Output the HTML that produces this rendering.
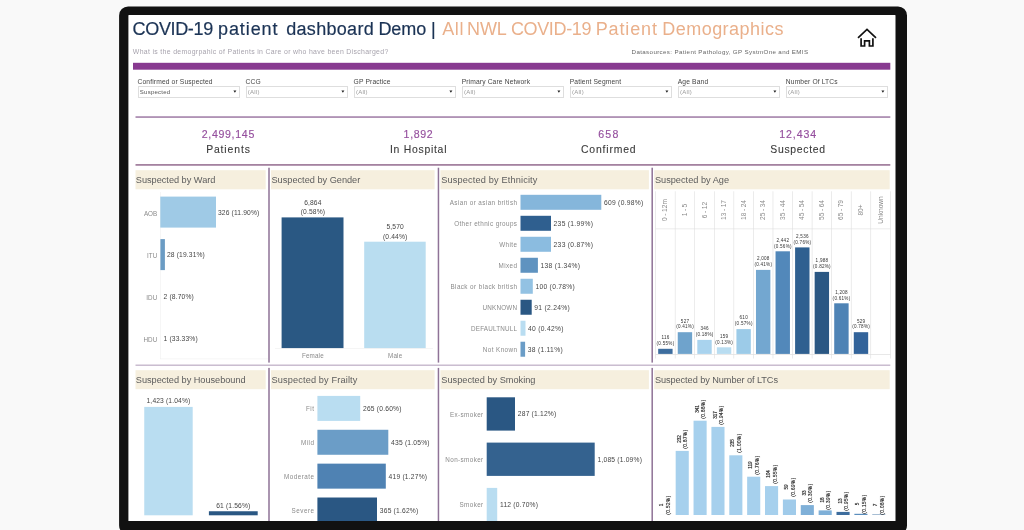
<!DOCTYPE html><html><head><meta charset="utf-8"><title>COVID-19 patient dashboard Demo</title><style>
*{margin:0;padding:0;box-sizing:border-box}
html,body{width:1024px;height:530px;overflow:hidden;background:#f9f9f9;font-family:"Liberation Sans",sans-serif;}
.scr{position:absolute;left:126px;top:13px;width:772px;height:510px;background:#fff;overflow:hidden;filter:blur(0.35px)}
.frame{position:absolute;left:0;top:0}
.t{position:absolute;white-space:nowrap;line-height:1;}
.b{position:absolute;}
.hd{position:absolute;background:#f5efe1;height:19px;}
.vl{position:absolute;width:1.3px;background:#a878b4;}
.hl{position:absolute;height:1.4px;background:#b07fba;}
.lab{color:#8a8a8a}
.val{color:#444}
</style></head><body>
<div class="scr">
<svg class="b" style="left:0;top:0" width="772" height="510" viewBox="0 0 772 510"><rect x="7.00" y="49.80" width="757.30" height="6.90" fill="#883a90"/><rect x="9.50" y="157.20" width="130.20" height="19.10" fill="#f6efde"/><rect x="9.50" y="357.20" width="130.20" height="19.00" fill="#f6efde"/><rect x="144.90" y="157.20" width="163.70" height="19.10" fill="#f6efde"/><rect x="144.90" y="357.20" width="163.70" height="19.00" fill="#f6efde"/><rect x="314.40" y="157.20" width="208.50" height="19.10" fill="#f6efde"/><rect x="314.40" y="357.20" width="208.50" height="19.00" fill="#f6efde"/><rect x="528.20" y="157.20" width="235.50" height="19.10" fill="#f6efde"/><rect x="528.20" y="357.20" width="235.50" height="19.00" fill="#f6efde"/><rect x="34.00" y="179.00" width="0.60" height="167.00" fill="#f0f0f0"/><rect x="34.00" y="345.60" width="108.00" height="0.60" fill="#f0f0f0"/><rect x="34.30" y="183.60" width="55.70" height="31.00" fill="#9fcae6"/><rect x="34.40" y="226.10" width="4.50" height="31.00" fill="#6b9cc4"/><rect x="155.60" y="204.40" width="61.90" height="130.80" fill="#2a5883"/><rect x="238.20" y="228.70" width="61.50" height="106.50" fill="#b9ddf0"/><rect x="149.00" y="335.20" width="158.00" height="0.60" fill="#eee"/><rect x="394.50" y="181.80" width="80.80" height="15.00" fill="#85b6db"/><rect x="394.50" y="202.79" width="30.50" height="15.00" fill="#2f5f8f"/><rect x="394.50" y="223.78" width="30.50" height="15.00" fill="#8bbce0"/><rect x="394.50" y="244.77" width="17.40" height="15.00" fill="#5f93c0"/><rect x="394.50" y="265.76" width="12.30" height="15.00" fill="#93c2e3"/><rect x="394.50" y="286.75" width="11.20" height="15.00" fill="#2a5783"/><rect x="394.50" y="307.74" width="5.00" height="15.00" fill="#b9ddf1"/><rect x="394.50" y="328.73" width="4.60" height="15.00" fill="#6b9dc7"/><rect x="529.30" y="178.30" width="0.60" height="167.20" fill="#dedede"/><rect x="548.86" y="178.30" width="0.60" height="167.20" fill="#dedede"/><rect x="568.42" y="178.30" width="0.60" height="167.20" fill="#dedede"/><rect x="587.98" y="178.30" width="0.60" height="167.20" fill="#dedede"/><rect x="607.54" y="178.30" width="0.60" height="167.20" fill="#dedede"/><rect x="627.10" y="178.30" width="0.60" height="167.20" fill="#dedede"/><rect x="646.66" y="178.30" width="0.60" height="167.20" fill="#dedede"/><rect x="666.22" y="178.30" width="0.60" height="167.20" fill="#dedede"/><rect x="685.78" y="178.30" width="0.60" height="167.20" fill="#dedede"/><rect x="705.34" y="178.30" width="0.60" height="167.20" fill="#dedede"/><rect x="724.90" y="178.30" width="0.60" height="167.20" fill="#dedede"/><rect x="744.46" y="178.30" width="0.60" height="167.20" fill="#dedede"/><rect x="764.02" y="178.30" width="0.60" height="167.20" fill="#dedede"/><rect x="529.70" y="215.60" width="234.70" height="0.60" fill="#dedede"/><rect x="529.70" y="341.10" width="234.70" height="0.70" fill="#dedede"/><rect x="532.18" y="335.80" width="14.40" height="5.10" fill="#3d6d9e"/><rect x="551.74" y="319.20" width="14.40" height="21.70" fill="#6fa3cc"/><rect x="571.30" y="326.90" width="14.40" height="14.00" fill="#a9d3ee"/><rect x="590.86" y="334.30" width="14.40" height="6.60" fill="#b9ddf1"/><rect x="610.42" y="316.10" width="14.40" height="24.80" fill="#9ccbe8"/><rect x="629.98" y="256.90" width="14.40" height="84.00" fill="#73a7d0"/><rect x="649.54" y="238.30" width="14.40" height="102.60" fill="#5288ba"/><rect x="669.10" y="234.40" width="14.40" height="106.50" fill="#2f6090"/><rect x="688.66" y="258.90" width="14.40" height="82.00" fill="#2a5783"/><rect x="708.22" y="290.30" width="14.40" height="50.60" fill="#4e83b5"/><rect x="727.78" y="319.20" width="14.40" height="21.70" fill="#32639a"/><rect x="18.25" y="393.90" width="48.45" height="108.40" fill="#b9ddf1"/><rect x="82.90" y="498.25" width="48.80" height="4.05" fill="#2a5783"/><rect x="191.40" y="382.90" width="42.80" height="25.00" fill="#b9ddf1"/><rect x="191.40" y="416.77" width="70.90" height="25.00" fill="#6b9dc7"/><rect x="191.40" y="450.64" width="68.40" height="25.00" fill="#4f82b3"/><rect x="191.40" y="484.51" width="59.60" height="25.00" fill="#2a5783"/><rect x="360.70" y="384.30" width="28.30" height="33.30" fill="#2a5783"/><rect x="360.70" y="429.60" width="108.00" height="33.30" fill="#34628f"/><rect x="360.70" y="474.90" width="10.50" height="33.30" fill="#b9ddf1"/><rect x="531.80" y="501.90" width="13.10" height="0.10" fill="#d5e8f5"/><rect x="549.67" y="437.90" width="13.10" height="64.10" fill="#a6d0ed"/><rect x="567.54" y="407.70" width="13.10" height="94.30" fill="#a6d0ed"/><rect x="585.41" y="413.90" width="13.10" height="88.10" fill="#a6d0ed"/><rect x="603.28" y="442.30" width="13.10" height="59.70" fill="#a6d0ed"/><rect x="621.15" y="463.70" width="13.10" height="38.30" fill="#a6d0ed"/><rect x="639.02" y="473.10" width="13.10" height="28.90" fill="#a6d0ed"/><rect x="656.89" y="486.50" width="13.10" height="15.50" fill="#a0cbea"/><rect x="674.76" y="492.10" width="13.10" height="9.90" fill="#7fb0d8"/><rect x="692.63" y="497.40" width="13.10" height="4.60" fill="#7fb0d8"/><rect x="710.50" y="498.90" width="13.10" height="3.10" fill="#3d6d9e"/><rect x="728.37" y="500.80" width="13.10" height="1.20" fill="#5b8ebd"/><rect x="746.24" y="501.40" width="13.10" height="0.60" fill="#6d93b8"/></svg>
<div class="t " style="font-size:18px;letter-spacing:-0.346px;left:6.60px;top:6.90px;color:#1b3355;-webkit-text-stroke:0.2px #1b3355">COVID-19</div>
<div class="t " style="font-size:18px;letter-spacing:0.909px;left:92.00px;top:6.90px;color:#1b3355;-webkit-text-stroke:0.2px #1b3355">patient</div>
<div class="t " style="font-size:18px;letter-spacing:0.298px;left:160.25px;top:6.90px;color:#1b3355;-webkit-text-stroke:0.2px #1b3355">dashboard</div>
<div class="t " style="font-size:18px;letter-spacing:-0.038px;left:252.40px;top:6.90px;color:#1b3355;-webkit-text-stroke:0.2px #1b3355">Demo</div>
<div class="t " style="font-size:18px;letter-spacing:1.124px;left:305.00px;top:6.90px;color:#1b3355;-webkit-text-stroke:0.2px #1b3355">|</div>
<div class="t " style="font-size:18px;letter-spacing:0.723px;left:316.15px;top:6.90px;color:#eab08b;">All</div>
<div class="t " style="font-size:18px;letter-spacing:-0.150px;left:341.10px;top:6.90px;color:#eab08b;">NWL</div>
<div class="t " style="font-size:18px;letter-spacing:-0.346px;left:384.90px;top:6.90px;color:#eab08b;">COVID-19</div>
<div class="t " style="font-size:18px;letter-spacing:0.868px;left:469.70px;top:6.90px;color:#eab08b;">Patient</div>
<div class="t " style="font-size:18px;letter-spacing:0.459px;left:536.30px;top:6.90px;color:#eab08b;">Demographics</div>
<div class="t " style="font-size:6.9px;letter-spacing:0.329px;left:6.80px;top:36.45px;color:#a7a3ad;">What is the demogrpahic of Patients in Care or who have been Discharged?</div>
<div class="t " style="font-size:6.2px;letter-spacing:0.363px;left:505.60px;top:36.30px;color:#666;">Datasources: Patient Pathology, GP SystmOne and EMIS</div>
<svg class="b" style="left:724px;top:9px" width="34" height="30" viewBox="0 0 34 30"><path d="M8 15.8 L17 7.5 L26 15.8 M11.1 16.2 V24 H14.6 V18.8 H19.4 V24 H22.9 V16.2" fill="none" stroke="#111" stroke-width="1.7" stroke-linejoin="miter" stroke-linecap="butt"/></svg>
<div class="t " style="font-size:6.7px;letter-spacing:0.140px;left:11.50px;top:65.55px;color:#444;">Confirmed or Suspected</div>
<div class="b" style="left:12.10px;top:73.00px;width:102px;height:12px;border:1px solid #dedede;background:#fff"></div>
<div class="t " style="font-size:6px;letter-spacing:0.250px;left:13.80px;top:76.20px;color:#555;">Suspected</div>
<svg class="b" style="left:105.50px;top:76.00px" width="6" height="6" viewBox="0 0 6 6"><path d="M1.4 1.4 H4.4 L2.9 3.7 Z" fill="#222"/></svg>
<div class="t " style="font-size:6.7px;letter-spacing:0.140px;left:119.55px;top:65.55px;color:#444;">CCG</div>
<div class="b" style="left:120.15px;top:73.00px;width:102px;height:12px;border:1px solid #dedede;background:#fff"></div>
<div class="t " style="font-size:6px;letter-spacing:0.250px;left:121.85px;top:76.20px;color:#999;">(All)</div>
<svg class="b" style="left:213.55px;top:76.00px" width="6" height="6" viewBox="0 0 6 6"><path d="M1.4 1.4 H4.4 L2.9 3.7 Z" fill="#222"/></svg>
<div class="t " style="font-size:6.7px;letter-spacing:0.140px;left:227.60px;top:65.55px;color:#444;">GP Practice</div>
<div class="b" style="left:228.20px;top:73.00px;width:102px;height:12px;border:1px solid #dedede;background:#fff"></div>
<div class="t " style="font-size:6px;letter-spacing:0.250px;left:229.90px;top:76.20px;color:#999;">(All)</div>
<svg class="b" style="left:321.60px;top:76.00px" width="6" height="6" viewBox="0 0 6 6"><path d="M1.4 1.4 H4.4 L2.9 3.7 Z" fill="#222"/></svg>
<div class="t " style="font-size:6.7px;letter-spacing:0.140px;left:335.65px;top:65.55px;color:#444;">Primary Care Network</div>
<div class="b" style="left:336.25px;top:73.00px;width:102px;height:12px;border:1px solid #dedede;background:#fff"></div>
<div class="t " style="font-size:6px;letter-spacing:0.250px;left:337.95px;top:76.20px;color:#999;">(All)</div>
<svg class="b" style="left:429.65px;top:76.00px" width="6" height="6" viewBox="0 0 6 6"><path d="M1.4 1.4 H4.4 L2.9 3.7 Z" fill="#222"/></svg>
<div class="t " style="font-size:6.7px;letter-spacing:0.140px;left:443.70px;top:65.55px;color:#444;">Patient Segment</div>
<div class="b" style="left:444.30px;top:73.00px;width:102px;height:12px;border:1px solid #dedede;background:#fff"></div>
<div class="t " style="font-size:6px;letter-spacing:0.250px;left:446.00px;top:76.20px;color:#999;">(All)</div>
<svg class="b" style="left:537.70px;top:76.00px" width="6" height="6" viewBox="0 0 6 6"><path d="M1.4 1.4 H4.4 L2.9 3.7 Z" fill="#222"/></svg>
<div class="t " style="font-size:6.7px;letter-spacing:0.140px;left:551.75px;top:65.55px;color:#444;">Age Band</div>
<div class="b" style="left:552.35px;top:73.00px;width:102px;height:12px;border:1px solid #dedede;background:#fff"></div>
<div class="t " style="font-size:6px;letter-spacing:0.250px;left:554.05px;top:76.20px;color:#999;">(All)</div>
<svg class="b" style="left:645.75px;top:76.00px" width="6" height="6" viewBox="0 0 6 6"><path d="M1.4 1.4 H4.4 L2.9 3.7 Z" fill="#222"/></svg>
<div class="t " style="font-size:6.7px;letter-spacing:0.140px;left:659.80px;top:65.55px;color:#444;">Number Of LTCs</div>
<div class="b" style="left:660.40px;top:73.00px;width:102px;height:12px;border:1px solid #dedede;background:#fff"></div>
<div class="t " style="font-size:6px;letter-spacing:0.250px;left:662.10px;top:76.20px;color:#999;">(All)</div>
<svg class="b" style="left:753.80px;top:76.00px" width="6" height="6" viewBox="0 0 6 6"><path d="M1.4 1.4 H4.4 L2.9 3.7 Z" fill="#222"/></svg>
<div class="t " style="font-size:10.6px;letter-spacing:0.680px;left:2.34px;width:200px;text-align:center;top:115.75px;color:#954f9e;-webkit-text-stroke:0.15px #954f9e;">2,499,145</div>
<div class="t " style="font-size:10.4px;letter-spacing:0.882px;left:2.44px;width:200px;text-align:center;top:132.20px;color:#3a3a3a;-webkit-text-stroke:0.1px #3a3a3a;">Patients</div>
<div class="t " style="font-size:10.6px;letter-spacing:0.668px;left:192.53px;width:200px;text-align:center;top:115.75px;color:#954f9e;-webkit-text-stroke:0.15px #954f9e;">1,892</div>
<div class="t " style="font-size:10.4px;letter-spacing:0.746px;left:192.57px;width:200px;text-align:center;top:132.20px;color:#3a3a3a;-webkit-text-stroke:0.1px #3a3a3a;">In Hospital</div>
<div class="t " style="font-size:10.6px;letter-spacing:1.307px;left:382.95px;width:200px;text-align:center;top:115.75px;color:#954f9e;-webkit-text-stroke:0.15px #954f9e;">658</div>
<div class="t " style="font-size:10.4px;letter-spacing:0.841px;left:382.72px;width:200px;text-align:center;top:132.20px;color:#3a3a3a;-webkit-text-stroke:0.1px #3a3a3a;">Confirmed</div>
<div class="t " style="font-size:10.6px;letter-spacing:0.896px;left:572.15px;width:200px;text-align:center;top:115.75px;color:#954f9e;-webkit-text-stroke:0.15px #954f9e;">12,434</div>
<div class="t " style="font-size:10.4px;letter-spacing:0.694px;left:572.05px;width:200px;text-align:center;top:132.20px;color:#3a3a3a;-webkit-text-stroke:0.1px #3a3a3a;">Suspected</div>
<div class="t " style="font-size:9.2px;letter-spacing:-0.015px;left:9.80px;top:162.60px;color:#5c5c5c">Suspected by Ward</div>
<div class="t " style="font-size:9.2px;letter-spacing:-0.022px;left:9.80px;top:362.60px;color:#5c5c5c">Suspected by Housebound</div>
<div class="t " style="font-size:9.2px;letter-spacing:-0.005px;left:145.50px;top:162.60px;color:#5c5c5c">Suspected by Gender</div>
<div class="t " style="font-size:9.2px;letter-spacing:0.140px;left:145.50px;top:362.60px;color:#5c5c5c">Suspected by Frailty</div>
<div class="t " style="font-size:9.2px;letter-spacing:0.149px;left:315.30px;top:162.60px;color:#5c5c5c">Suspected by Ethnicity</div>
<div class="t " style="font-size:9.2px;letter-spacing:0.011px;left:315.30px;top:362.60px;color:#5c5c5c">Suspected by Smoking</div>
<div class="t " style="font-size:9.2px;letter-spacing:0.009px;left:528.90px;top:162.60px;color:#5c5c5c">Suspected by Age</div>
<div class="t " style="font-size:9.2px;letter-spacing:-0.070px;left:528.90px;top:362.60px;color:#5c5c5c">Suspected by Number of LTCs</div>
<div class="t lab" style="font-size:6.3px;right:740.80px;top:197.55px;">AOB</div>
<div class="t val" style="font-size:6.7px;letter-spacing:0.150px;left:92.00px;top:197.35px;">326 (11.90%)</div>
<div class="t lab" style="font-size:6.3px;right:740.80px;top:239.55px;">ITU</div>
<div class="t val" style="font-size:6.7px;letter-spacing:0.150px;left:40.90px;top:239.35px;">28 (19.31%)</div>
<div class="t lab" style="font-size:6.3px;right:740.80px;top:281.55px;">IDU</div>
<div class="t val" style="font-size:6.7px;letter-spacing:0.150px;left:37.60px;top:281.35px;">2 (8.70%)</div>
<div class="t lab" style="font-size:6.3px;right:740.80px;top:323.55px;">HDU</div>
<div class="t val" style="font-size:6.7px;letter-spacing:0.150px;left:37.60px;top:323.35px;">1 (33.33%)</div>
<div class="t val" style="font-size:6.7px;letter-spacing:0.150px;left:86.88px;width:200px;text-align:center;top:186.95px;">6,864</div>
<div class="t val" style="font-size:6.7px;letter-spacing:0.150px;left:86.88px;width:200px;text-align:center;top:196.15px;">(0.58%)</div>
<div class="t val" style="font-size:6.7px;letter-spacing:0.150px;left:169.18px;width:200px;text-align:center;top:211.35px;">5,570</div>
<div class="t val" style="font-size:6.7px;letter-spacing:0.150px;left:169.18px;width:200px;text-align:center;top:220.55px;">(0.44%)</div>
<div class="t lab" style="font-size:6.3px;letter-spacing:0.150px;left:86.88px;width:200px;text-align:center;top:340.15px;">Female</div>
<div class="t lab" style="font-size:6.3px;letter-spacing:0.150px;left:169.18px;width:200px;text-align:center;top:340.15px;">Male</div>
<div class="t lab" style="font-size:6.3px;letter-spacing:0.420px;right:380.58px;top:186.85px;">Asian or asian british</div>
<div class="t val" style="font-size:6.7px;letter-spacing:0.300px;left:477.90px;top:186.65px;">609 (0.98%)</div>
<div class="t lab" style="font-size:6.3px;letter-spacing:0.420px;right:380.58px;top:207.84px;">Other ethnic groups</div>
<div class="t val" style="font-size:6.7px;letter-spacing:0.300px;left:427.60px;top:207.64px;">235 (1.99%)</div>
<div class="t lab" style="font-size:6.3px;letter-spacing:0.420px;right:380.58px;top:228.83px;">White</div>
<div class="t val" style="font-size:6.7px;letter-spacing:0.300px;left:427.60px;top:228.63px;">233 (0.87%)</div>
<div class="t lab" style="font-size:6.3px;letter-spacing:0.420px;right:380.58px;top:249.82px;">Mixed</div>
<div class="t val" style="font-size:6.7px;letter-spacing:0.300px;left:414.50px;top:249.62px;">138 (1.34%)</div>
<div class="t lab" style="font-size:6.3px;letter-spacing:0.420px;right:380.58px;top:270.81px;">Black or black british</div>
<div class="t val" style="font-size:6.7px;letter-spacing:0.300px;left:409.40px;top:270.61px;">100 (0.78%)</div>
<div class="t lab" style="font-size:6.3px;letter-spacing:0.200px;right:380.80px;top:291.80px;">UNKNOWN</div>
<div class="t val" style="font-size:6.7px;letter-spacing:0.300px;left:408.30px;top:291.60px;">91 (2.24%)</div>
<div class="t lab" style="font-size:6.3px;letter-spacing:0.200px;right:380.80px;top:312.79px;">DEFAULTNULL</div>
<div class="t val" style="font-size:6.7px;letter-spacing:0.300px;left:402.10px;top:312.59px;">40 (0.42%)</div>
<div class="t lab" style="font-size:6.3px;letter-spacing:0.420px;right:380.58px;top:333.78px;">Not Known</div>
<div class="t val" style="font-size:6.7px;letter-spacing:0.300px;left:401.70px;top:333.58px;">38 (1.11%)</div>
<div class="t" style="left:539.38px;top:196.90px;font-size:6.6px;color:#8a8a8a;transform:translate(-50%,-50%) rotate(-90deg);word-spacing:-0.3px">0 - 12m</div>
<div class="t" style="left:558.94px;top:196.90px;font-size:6.6px;color:#8a8a8a;transform:translate(-50%,-50%) rotate(-90deg);word-spacing:-0.3px">1 - 5</div>
<div class="t" style="left:578.50px;top:196.90px;font-size:6.6px;color:#8a8a8a;transform:translate(-50%,-50%) rotate(-90deg);word-spacing:-0.3px">6 - 12</div>
<div class="t" style="left:598.06px;top:196.90px;font-size:6.6px;color:#8a8a8a;transform:translate(-50%,-50%) rotate(-90deg);word-spacing:-0.3px">13 - 17</div>
<div class="t" style="left:617.62px;top:196.90px;font-size:6.6px;color:#8a8a8a;transform:translate(-50%,-50%) rotate(-90deg);word-spacing:-0.3px">18 - 24</div>
<div class="t" style="left:637.18px;top:196.90px;font-size:6.6px;color:#8a8a8a;transform:translate(-50%,-50%) rotate(-90deg);word-spacing:-0.3px">25 - 34</div>
<div class="t" style="left:656.74px;top:196.90px;font-size:6.6px;color:#8a8a8a;transform:translate(-50%,-50%) rotate(-90deg);word-spacing:-0.3px">35 - 44</div>
<div class="t" style="left:676.30px;top:196.90px;font-size:6.6px;color:#8a8a8a;transform:translate(-50%,-50%) rotate(-90deg);word-spacing:-0.3px">45 - 54</div>
<div class="t" style="left:695.86px;top:196.90px;font-size:6.6px;color:#8a8a8a;transform:translate(-50%,-50%) rotate(-90deg);word-spacing:-0.3px">55 - 64</div>
<div class="t" style="left:715.42px;top:196.90px;font-size:6.6px;color:#8a8a8a;transform:translate(-50%,-50%) rotate(-90deg);word-spacing:-0.3px">65 - 79</div>
<div class="t" style="left:734.98px;top:196.90px;font-size:6.6px;color:#8a8a8a;transform:translate(-50%,-50%) rotate(-90deg);word-spacing:-0.3px">80+</div>
<div class="t" style="left:754.54px;top:196.90px;font-size:6.6px;color:#8a8a8a;transform:translate(-50%,-50%) rotate(-90deg);word-spacing:-0.3px">Unknown</div>
<div class="t " style="font-size:4.6px;letter-spacing:0.250px;left:439.50px;width:200px;text-align:center;top:323.10px;color:#333;">116</div>
<div class="t " style="font-size:4.6px;letter-spacing:0.250px;left:439.50px;width:200px;text-align:center;top:329.00px;color:#333;">(0.55%)</div>
<div class="t " style="font-size:4.6px;letter-spacing:0.250px;left:459.06px;width:200px;text-align:center;top:306.50px;color:#333;">527</div>
<div class="t " style="font-size:4.6px;letter-spacing:0.250px;left:459.06px;width:200px;text-align:center;top:312.40px;color:#333;">(0.41%)</div>
<div class="t " style="font-size:4.6px;letter-spacing:0.250px;left:478.62px;width:200px;text-align:center;top:314.20px;color:#333;">346</div>
<div class="t " style="font-size:4.6px;letter-spacing:0.250px;left:478.62px;width:200px;text-align:center;top:320.10px;color:#333;">(0.18%)</div>
<div class="t " style="font-size:4.6px;letter-spacing:0.250px;left:498.18px;width:200px;text-align:center;top:321.60px;color:#333;">159</div>
<div class="t " style="font-size:4.6px;letter-spacing:0.250px;left:498.18px;width:200px;text-align:center;top:327.50px;color:#333;">(0.13%)</div>
<div class="t " style="font-size:4.6px;letter-spacing:0.250px;left:517.75px;width:200px;text-align:center;top:303.40px;color:#333;">610</div>
<div class="t " style="font-size:4.6px;letter-spacing:0.250px;left:517.75px;width:200px;text-align:center;top:309.30px;color:#333;">(0.57%)</div>
<div class="t " style="font-size:4.6px;letter-spacing:0.250px;left:537.30px;width:200px;text-align:center;top:244.20px;color:#333;">2,008</div>
<div class="t " style="font-size:4.6px;letter-spacing:0.250px;left:537.30px;width:200px;text-align:center;top:250.10px;color:#333;">(0.41%)</div>
<div class="t " style="font-size:4.6px;letter-spacing:0.250px;left:556.87px;width:200px;text-align:center;top:225.60px;color:#333;">2,442</div>
<div class="t " style="font-size:4.6px;letter-spacing:0.250px;left:556.87px;width:200px;text-align:center;top:231.50px;color:#333;">(0.56%)</div>
<div class="t " style="font-size:4.6px;letter-spacing:0.250px;left:576.42px;width:200px;text-align:center;top:221.70px;color:#333;">2,536</div>
<div class="t " style="font-size:4.6px;letter-spacing:0.250px;left:576.42px;width:200px;text-align:center;top:227.60px;color:#333;">(0.76%)</div>
<div class="t " style="font-size:4.6px;letter-spacing:0.250px;left:595.99px;width:200px;text-align:center;top:246.20px;color:#333;">1,988</div>
<div class="t " style="font-size:4.6px;letter-spacing:0.250px;left:595.99px;width:200px;text-align:center;top:252.10px;color:#333;">(0.82%)</div>
<div class="t " style="font-size:4.6px;letter-spacing:0.250px;left:615.54px;width:200px;text-align:center;top:277.60px;color:#333;">1,208</div>
<div class="t " style="font-size:4.6px;letter-spacing:0.250px;left:615.54px;width:200px;text-align:center;top:283.50px;color:#333;">(0.61%)</div>
<div class="t " style="font-size:4.6px;letter-spacing:0.250px;left:635.11px;width:200px;text-align:center;top:306.50px;color:#333;">529</div>
<div class="t " style="font-size:4.6px;letter-spacing:0.250px;left:635.11px;width:200px;text-align:center;top:312.40px;color:#333;">(0.78%)</div>
<div class="t val" style="font-size:6.7px;letter-spacing:0.150px;left:-57.52px;width:200px;text-align:center;top:384.95px;">1,423 (1.04%)</div>
<div class="t val" style="font-size:6.7px;letter-spacing:0.150px;left:7.27px;width:200px;text-align:center;top:489.65px;">61 (1.56%)</div>
<div class="t " style="font-size:6.3px;left:-57.60px;width:200px;text-align:center;top:508.05px;color:#555">Not Housebound</div>
<div class="t " style="font-size:6.3px;left:7.20px;width:200px;text-align:center;top:508.05px;color:#555">Housebound</div>
<div class="t lab" style="font-size:6.3px;letter-spacing:0.500px;right:583.50px;top:393.25px;">Fit</div>
<div class="t val" style="font-size:6.7px;letter-spacing:0.200px;left:237.00px;top:393.05px;">265 (0.60%)</div>
<div class="t lab" style="font-size:6.3px;letter-spacing:0.500px;right:583.50px;top:427.12px;">Mild</div>
<div class="t val" style="font-size:6.7px;letter-spacing:0.200px;left:265.10px;top:426.92px;">435 (1.05%)</div>
<div class="t lab" style="font-size:6.3px;letter-spacing:0.500px;right:583.50px;top:460.99px;">Moderate</div>
<div class="t val" style="font-size:6.7px;letter-spacing:0.200px;left:262.60px;top:460.79px;">419 (1.27%)</div>
<div class="t lab" style="font-size:6.3px;letter-spacing:0.500px;right:583.50px;top:494.86px;">Severe</div>
<div class="t val" style="font-size:6.7px;letter-spacing:0.200px;left:253.80px;top:494.66px;">365 (1.62%)</div>
<div class="t lab" style="font-size:6.3px;letter-spacing:0.400px;right:414.40px;top:398.55px;">Ex-smoker</div>
<div class="t val" style="font-size:6.7px;letter-spacing:0.200px;left:391.80px;top:398.35px;">287 (1.12%)</div>
<div class="t lab" style="font-size:6.3px;letter-spacing:0.400px;right:414.40px;top:443.85px;">Non-smoker</div>
<div class="t val" style="font-size:6.7px;letter-spacing:0.200px;left:471.50px;top:443.65px;">1,085 (1.09%)</div>
<div class="t lab" style="font-size:6.3px;letter-spacing:0.400px;right:414.40px;top:489.15px;">Smoker</div>
<div class="t val" style="font-size:6.7px;letter-spacing:0.200px;left:374.00px;top:488.95px;">112 (0.70%)</div>
<div class="t" style="left:535.90px;top:492.40px;font-size:4.6px;letter-spacing:0.0px;color:#222;-webkit-text-stroke:0.15px #222;transform:translate(-50%,-50%) rotate(-90deg)">1</div>
<div class="t" style="left:542.50px;top:492.40px;font-size:4.6px;letter-spacing:0.45px;color:#222;-webkit-text-stroke:0.15px #222;transform:translate(-50%,-50%) rotate(-90deg)">(0.52%)</div>
<div class="t " style="font-size:6.3px;left:438.35px;width:200px;text-align:center;top:508.15px;color:#555;">0</div>
<div class="t" style="left:553.77px;top:425.80px;font-size:4.6px;letter-spacing:0.0px;color:#222;-webkit-text-stroke:0.15px #222;transform:translate(-50%,-50%) rotate(-90deg)">232</div>
<div class="t" style="left:560.37px;top:425.80px;font-size:4.6px;letter-spacing:0.45px;color:#222;-webkit-text-stroke:0.15px #222;transform:translate(-50%,-50%) rotate(-90deg)">(0.87%)</div>
<div class="t " style="font-size:6.3px;left:456.22px;width:200px;text-align:center;top:508.15px;color:#555;">1</div>
<div class="t" style="left:571.64px;top:395.60px;font-size:4.6px;letter-spacing:0.0px;color:#222;-webkit-text-stroke:0.15px #222;transform:translate(-50%,-50%) rotate(-90deg)">341</div>
<div class="t" style="left:578.24px;top:395.60px;font-size:4.6px;letter-spacing:0.45px;color:#222;-webkit-text-stroke:0.15px #222;transform:translate(-50%,-50%) rotate(-90deg)">(0.88%)</div>
<div class="t " style="font-size:6.3px;left:474.09px;width:200px;text-align:center;top:508.15px;color:#555;">2</div>
<div class="t" style="left:589.51px;top:401.80px;font-size:4.6px;letter-spacing:0.0px;color:#222;-webkit-text-stroke:0.15px #222;transform:translate(-50%,-50%) rotate(-90deg)">317</div>
<div class="t" style="left:596.11px;top:401.80px;font-size:4.6px;letter-spacing:0.45px;color:#222;-webkit-text-stroke:0.15px #222;transform:translate(-50%,-50%) rotate(-90deg)">(0.94%)</div>
<div class="t " style="font-size:6.3px;left:491.96px;width:200px;text-align:center;top:508.15px;color:#555;">3</div>
<div class="t" style="left:607.38px;top:430.20px;font-size:4.6px;letter-spacing:0.0px;color:#222;-webkit-text-stroke:0.15px #222;transform:translate(-50%,-50%) rotate(-90deg)">235</div>
<div class="t" style="left:613.98px;top:430.20px;font-size:4.6px;letter-spacing:0.45px;color:#222;-webkit-text-stroke:0.15px #222;transform:translate(-50%,-50%) rotate(-90deg)">(1.00%)</div>
<div class="t " style="font-size:6.3px;left:509.83px;width:200px;text-align:center;top:508.15px;color:#555;">4</div>
<div class="t" style="left:625.25px;top:451.60px;font-size:4.6px;letter-spacing:0.0px;color:#222;-webkit-text-stroke:0.15px #222;transform:translate(-50%,-50%) rotate(-90deg)">119</div>
<div class="t" style="left:631.85px;top:451.60px;font-size:4.6px;letter-spacing:0.45px;color:#222;-webkit-text-stroke:0.15px #222;transform:translate(-50%,-50%) rotate(-90deg)">(0.76%)</div>
<div class="t " style="font-size:6.3px;left:527.70px;width:200px;text-align:center;top:508.15px;color:#555;">5</div>
<div class="t" style="left:643.12px;top:461.00px;font-size:4.6px;letter-spacing:0.0px;color:#222;-webkit-text-stroke:0.15px #222;transform:translate(-50%,-50%) rotate(-90deg)">104</div>
<div class="t" style="left:649.72px;top:461.00px;font-size:4.6px;letter-spacing:0.45px;color:#222;-webkit-text-stroke:0.15px #222;transform:translate(-50%,-50%) rotate(-90deg)">(0.55%)</div>
<div class="t " style="font-size:6.3px;left:545.57px;width:200px;text-align:center;top:508.15px;color:#555;">6</div>
<div class="t" style="left:660.99px;top:474.40px;font-size:4.6px;letter-spacing:0.0px;color:#222;-webkit-text-stroke:0.15px #222;transform:translate(-50%,-50%) rotate(-90deg)">59</div>
<div class="t" style="left:667.59px;top:474.40px;font-size:4.6px;letter-spacing:0.45px;color:#222;-webkit-text-stroke:0.15px #222;transform:translate(-50%,-50%) rotate(-90deg)">(0.69%)</div>
<div class="t " style="font-size:6.3px;left:563.44px;width:200px;text-align:center;top:508.15px;color:#555;">7</div>
<div class="t" style="left:678.86px;top:480.00px;font-size:4.6px;letter-spacing:0.0px;color:#222;-webkit-text-stroke:0.15px #222;transform:translate(-50%,-50%) rotate(-90deg)">33</div>
<div class="t" style="left:685.46px;top:480.00px;font-size:4.6px;letter-spacing:0.45px;color:#222;-webkit-text-stroke:0.15px #222;transform:translate(-50%,-50%) rotate(-90deg)">(0.30%)</div>
<div class="t " style="font-size:6.3px;left:581.31px;width:200px;text-align:center;top:508.15px;color:#555;">8</div>
<div class="t" style="left:696.73px;top:486.50px;font-size:4.6px;letter-spacing:0.0px;color:#222;-webkit-text-stroke:0.15px #222;transform:translate(-50%,-50%) rotate(-90deg)">18</div>
<div class="t" style="left:703.33px;top:486.50px;font-size:4.6px;letter-spacing:0.45px;color:#222;-webkit-text-stroke:0.15px #222;transform:translate(-50%,-50%) rotate(-90deg)">(0.39%)</div>
<div class="t " style="font-size:6.3px;left:599.18px;width:200px;text-align:center;top:508.15px;color:#555;">9</div>
<div class="t" style="left:714.60px;top:488.00px;font-size:4.6px;letter-spacing:0.0px;color:#222;-webkit-text-stroke:0.15px #222;transform:translate(-50%,-50%) rotate(-90deg)">13</div>
<div class="t" style="left:721.20px;top:488.00px;font-size:4.6px;letter-spacing:0.45px;color:#222;-webkit-text-stroke:0.15px #222;transform:translate(-50%,-50%) rotate(-90deg)">(0.95%)</div>
<div class="t " style="font-size:6.3px;left:617.05px;width:200px;text-align:center;top:508.15px;color:#555;">10</div>
<div class="t" style="left:732.47px;top:491.30px;font-size:4.6px;letter-spacing:0.0px;color:#222;-webkit-text-stroke:0.15px #222;transform:translate(-50%,-50%) rotate(-90deg)">5</div>
<div class="t" style="left:739.07px;top:491.30px;font-size:4.6px;letter-spacing:0.45px;color:#222;-webkit-text-stroke:0.15px #222;transform:translate(-50%,-50%) rotate(-90deg)">(0.15%)</div>
<div class="t " style="font-size:6.3px;left:634.92px;width:200px;text-align:center;top:508.15px;color:#555;">11</div>
<div class="t" style="left:750.34px;top:491.90px;font-size:4.6px;letter-spacing:0.0px;color:#222;-webkit-text-stroke:0.15px #222;transform:translate(-50%,-50%) rotate(-90deg)">7</div>
<div class="t" style="left:756.94px;top:491.90px;font-size:4.6px;letter-spacing:0.45px;color:#222;-webkit-text-stroke:0.15px #222;transform:translate(-50%,-50%) rotate(-90deg)">(0.08%)</div>
<div class="t " style="font-size:6.3px;left:652.79px;width:200px;text-align:center;top:508.15px;color:#555;">12</div>
<svg class="b" style="left:0;top:0" width="772" height="510" viewBox="0 0 772 510"><rect x="9.50" y="103.26" width="754.80" height="1.6" fill="#a482aa"/><rect x="9.50" y="151.05" width="754.80" height="1.7" fill="#a07c9c"/><rect x="9.50" y="351.55" width="754.80" height="1.3" fill="#c2b2c8"/><rect x="142.25" y="154.70" width="1.5" height="194.90" fill="#8f7397"/><rect x="142.25" y="354.90" width="1.5" height="154.10" fill="#8f7397"/><rect x="311.70" y="154.70" width="1.5" height="194.90" fill="#8f7397"/><rect x="311.70" y="354.90" width="1.5" height="154.10" fill="#8f7397"/><rect x="525.45" y="154.70" width="1.5" height="194.90" fill="#8f7397"/><rect x="525.45" y="354.90" width="1.5" height="154.10" fill="#8f7397"/></svg>
</div>
<svg class="frame" width="1024" height="530" viewBox="0 0 1024 530"><path fill-rule="evenodd" fill="#111" d="M128.1 6.4 H898 A9 9 0 0 1 907 15.4 V525.5 A9 9 0 0 1 898 534.5 H128.1 A9 9 0 0 1 119.1 525.5 V15.4 A9 9 0 0 1 128.1 6.4 Z M128.9 14.9 Q128.4 14.9 128.4 15.4 V520.9 H895.5 V15.4 Q895.5 14.9 895 14.9 Z"/></svg>
</body></html>
